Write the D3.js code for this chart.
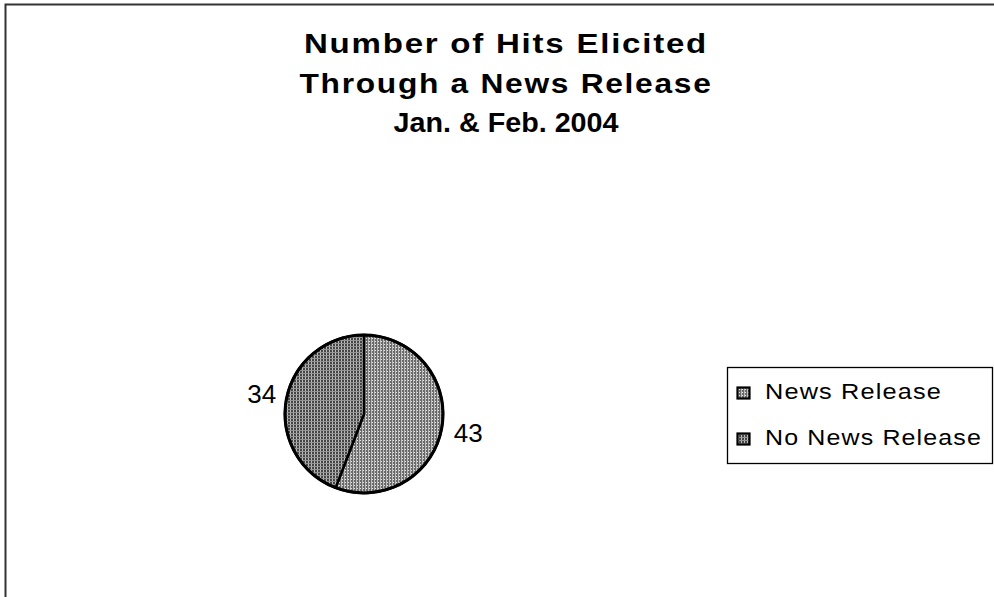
<!DOCTYPE html>
<html>
<head>
<meta charset="UTF-8">
<style>
  body { margin: 0; background: #fff; }
  text { font-family: "Liberation Sans", Arial, sans-serif; }
</style>
</head>
<body>
<svg id="chart"></svg>
<script src="https://d3js.org/d3.v7.min.js"></script>
<script>
// data
const categories = ["News Release", "No News Release"];
const values = [43, 34];
const titleLines = ["Number of Hits Elicited", "Through a News Release", "Jan. & Feb. 2004"];

const width = 994, height = 597;
const svg = d3.select("#chart").attr("width", width).attr("height", height);

// hatch patterns like the old scanned print
const defs = svg.append("defs");
const p1 = defs.append("pattern").attr("id", "pat0").attr("patternUnits", "userSpaceOnUse")
  .attr("width", 3).attr("height", 3);
p1.append("rect").attr("width", 3).attr("height", 3).attr("fill", "#6a6a6a");
p1.append("rect").attr("x", 1).attr("width", 1).attr("height", 3).attr("fill", "#bcbcbc");
p1.append("rect").attr("x", 2).attr("y", 2).attr("width", 1).attr("height", 1).attr("fill", "#e8e8e8");
const p2 = defs.append("pattern").attr("id", "pat1").attr("patternUnits", "userSpaceOnUse")
  .attr("width", 3).attr("height", 3);
p2.append("rect").attr("width", 3).attr("height", 3).attr("fill", "#444");
p2.append("rect").attr("x", 1).attr("width", 1).attr("height", 3).attr("fill", "#bcbcbc");
p2.append("rect").attr("y", 1).attr("width", 3).attr("height", 1).attr("fill", "#959595");

// outer frame (top + left only visible)
svg.append("path").attr("d", `M5.5,${height} V4.5 H${width}`)
  .attr("fill", "none").attr("stroke", "#333").attr("stroke-width", 2);

// title, stretched like the scanned original
const titleWidths = [404, 413, 225];
svg.append("g").selectAll("text").data(titleLines).join("text")
  .attr("x", 506).attr("y", (d, i) => 53 + i * 39.5)
  .attr("text-anchor", "middle").attr("font-size", 28).attr("font-weight", "bold")
  .attr("letter-spacing", (d, i) => i < 2 ? 1.5 : 0)
  .attr("textLength", (d, i) => titleWidths[i]).attr("lengthAdjust", "spacingAndGlyphs")
  .text(d => d);

// pie
const cx = 364, cy = 414, r = 79;
const pie = d3.pie().sort(null)(values);
const arc = d3.arc().innerRadius(0).outerRadius(r);
const g = svg.append("g").attr("transform", `translate(${cx},${cy})`);
g.selectAll("path").data(pie).join("path")
  .attr("d", arc)
  .attr("fill", (d, i) => `url(#pat${i})`)
  .attr("stroke", "#000").attr("stroke-width", 2.5).attr("stroke-linejoin", "round");
g.append("circle").attr("r", r).attr("fill", "none").attr("stroke", "#000").attr("stroke-width", 3);

// value labels
const labelArc = d3.arc().innerRadius(r + 26).outerRadius(r + 26);
g.selectAll("text.lbl").data(pie).join("text")
  .attr("class", "lbl")
  .attr("x", d => labelArc.centroid(d)[0] + 1)
  .attr("y", d => labelArc.centroid(d)[1] - 1)
  .attr("text-anchor", "middle").attr("dy", "0.36em")
  .attr("font-size", 26)
  .text(d => d.data);

// legend
const lg = svg.append("g");
lg.append("rect").attr("x", 727.5).attr("y", 367.5).attr("width", 265).attr("height", 96)
  .attr("fill", "#fff").attr("stroke", "#000").attr("stroke-width", 1.3);
const items = lg.selectAll("g.item").data(categories).join("g").attr("class", "item")
  .attr("transform", (d, i) => `translate(737,${387 + i * 46})`);
items.append("rect").attr("x", 0.5).attr("y", 0.5).attr("width", 12).attr("height", 11)
  .attr("fill", (d, i) => `url(#pat${i})`).attr("stroke", "#000").attr("stroke-width", 2.2);
const legendWidths = [177, 217];
items.append("text").attr("x", 28).attr("y", 11.5)
  .attr("font-size", 22).attr("letter-spacing", 1)
  .attr("textLength", (d, i) => legendWidths[i]).attr("lengthAdjust", "spacingAndGlyphs")
  .text(d => d);
</script>
</body>
</html>
